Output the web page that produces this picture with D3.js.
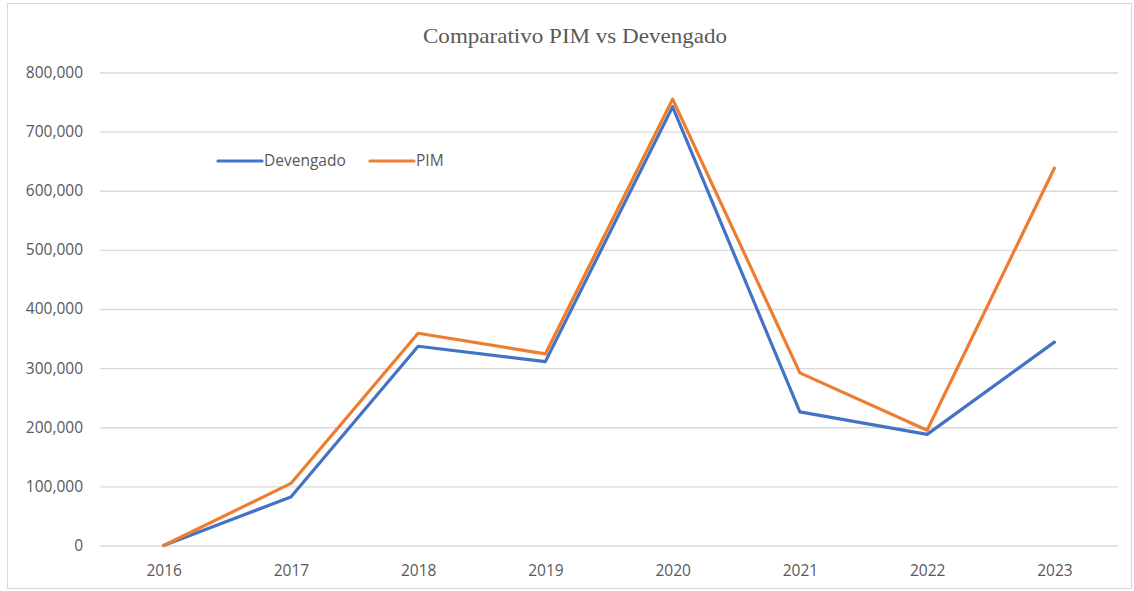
<!DOCTYPE html>
<html>
<head>
<meta charset="utf-8">
<script src="https://cdn.jsdelivr.net/npm/d3@7"></script>
<style>
  html, body { margin: 0; padding: 0; background: #fff; }
  svg { display: block; }
</style>
</head>
<body>
<svg id="chart" width="1134" height="591"></svg>
<script>
// Años del periodo analizado
const years = ["2016", "2017", "2018", "2019", "2020", "2021", "2022", "2023"];
// Montos devengados por año
const devengado = [0, 82000, 337000, 311000, 742000, 226000, 188000, 344000];
// Presupuesto institucional modificado (PIM) por año
const pim = [0, 105000, 359000, 324000, 755000, 292000, 195000, 638000];
// Marcas del eje vertical
const yTicks = [0, 100000, 200000, 300000, 400000, 500000, 600000, 700000, 800000];

const seriesList = [
  { name: "Devengado", values: devengado, color: "#4472C4" },
  { name: "PIM", values: pim, color: "#ED7D31" }
];

const svg = d3.select("#chart");
const labelFont = "'Open Sans', sans-serif";
const labelSize = 15.5;

// Marco del área del gráfico
svg.append("rect")
  .attr("x", 7.5).attr("y", 3.5)
  .attr("width", 1124).attr("height", 585)
  .attr("fill", "#fff")
  .attr("stroke", "#d9d9d9").attr("stroke-width", 1);

const plot = { left: 100, right: 1118, top: 72.5, bottom: 545.5 };

const x = d3.scalePoint().domain(years).range([plot.left, plot.right]).padding(0.5);
const y = d3.scaleLinear().domain([0, 800000]).range([plot.bottom, plot.top]);

// Título
svg.append("text")
  .attr("x", 575).attr("y", 43)
  .attr("text-anchor", "middle")
  .attr("font-family", "'Liberation Serif', 'Times New Roman', serif")
  .attr("font-size", 22)
  .attr("textLength", 304)
  .attr("lengthAdjust", "spacingAndGlyphs")
  .attr("fill", "#595959")
  .text("Comparativo PIM vs Devengado");

// Líneas de cuadrícula y etiquetas del eje Y
const yAxis = d3.axisLeft(y)
  .tickValues(yTicks)
  .tickSize(-(plot.right - plot.left))
  .tickPadding(17)
  .tickFormat(d3.format(","));

const gy = svg.append("g")
  .attr("transform", `translate(${plot.left},0)`)
  .call(yAxis);
gy.select(".domain").remove();
gy.selectAll(".tick line").attr("stroke", "#d9d9d9").attr("stroke-width", 1.3);
gy.selectAll(".tick text")
  .attr("fill", "#595959")
  .attr("font-family", labelFont)
  .attr("font-size", labelSize);

// Etiquetas del eje X
const xAxis = d3.axisBottom(x).tickSize(0).tickPadding(19);
const gx = svg.append("g")
  .attr("transform", `translate(0,${plot.bottom})`)
  .call(xAxis);
gx.select(".domain").remove();
gx.selectAll(".tick text")
  .attr("fill", "#595959")
  .attr("font-family", labelFont)
  .attr("font-size", labelSize);

// Series
const line = d3.line()
  .x((d, i) => x(years[i]))
  .y(d => y(d));

seriesList.forEach(s => {
  svg.append("path")
    .datum(s.values)
    .attr("d", line)
    .attr("fill", "none")
    .attr("stroke", s.color)
    .attr("stroke-width", 3.2)
    .attr("stroke-linejoin", "round")
    .attr("stroke-linecap", "round");
});

// Leyenda
const legend = svg.append("g").attr("transform", "translate(218,161)");
const legendX = [0, 152];
seriesList.forEach((s, i) => {
  const g = legend.append("g").attr("transform", `translate(${legendX[i]},0)`);
  g.append("line")
    .attr("x1", 0).attr("x2", 44).attr("y1", 0).attr("y2", 0)
    .attr("stroke", s.color).attr("stroke-width", 3.2).attr("stroke-linecap", "round");
  g.append("text")
    .attr("x", 46).attr("y", 0).attr("dy", "0.35em")
    .attr("fill", "#595959")
    .attr("font-family", labelFont)
    .attr("font-size", labelSize)
    .text(s.name);
});
</script>
</body>
</html>
